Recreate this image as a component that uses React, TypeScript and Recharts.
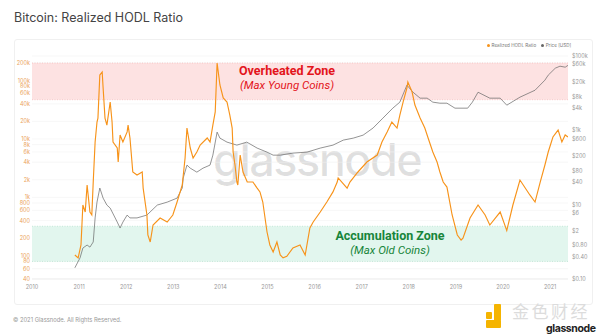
import React from "react"
import { ComposedChart, Line, XAxis, YAxis, CartesianGrid, ReferenceArea, ReferenceLine } from "recharts"

// realized HODL ratio (decimal year / ratio)
const hodlYears = [
  2010.91, 2010.98, 2011.04, 2011.08, 2011.13, 2011.17, 2011.23, 2011.27, 2011.30, 2011.34,
  2011.38, 2011.40, 2011.44, 2011.49, 2011.51, 2011.55, 2011.59, 2011.66, 2011.70, 2011.72,
  2011.81, 2011.83, 2011.87, 2011.93, 2012.02, 2012.04, 2012.08, 2012.14, 2012.23, 2012.34,
  2012.36, 2012.44, 2012.46, 2012.51, 2012.57, 2012.72, 2012.87, 2012.99, 2013.08, 2013.19,
  2013.25, 2013.29, 2013.36, 2013.42, 2013.50, 2013.57, 2013.72, 2013.78, 2013.84, 2013.89,
  2013.93, 2013.99, 2014.06, 2014.14, 2014.20, 2014.25, 2014.27, 2014.31, 2014.35, 2014.37,
  2014.42, 2014.48, 2014.57, 2014.69, 2014.78, 2014.84, 2014.90, 2014.99, 2015.05, 2015.12,
  2015.20, 2015.27, 2015.33, 2015.41, 2015.54, 2015.69, 2015.80, 2015.90, 2015.97, 2016.12,
  2016.26, 2016.39, 2016.48, 2016.50, 2016.69, 2016.75, 2016.92, 2017.11, 2017.33, 2017.43,
  2017.54, 2017.64, 2017.75, 2017.81, 2017.88, 2017.96, 2017.98, 2018.07, 2018.13, 2018.24,
  2018.34, 2018.41, 2018.51, 2018.60, 2018.66, 2018.73, 2018.81, 2018.92, 2019.03, 2019.11,
  2019.15, 2019.30, 2019.47, 2019.62, 2019.72, 2019.94, 2020.08, 2020.21, 2020.36, 2020.57,
  2020.68, 2020.79, 2020.89, 2020.96, 2021.06, 2021.17, 2021.25, 2021.32, 2021.38,
]
const hodlRatio = [
  103, 92, 153, 740, 561, 1630, 561, 499, 1830, 8870,
  19500, 22800, 124500, 140300, 74600, 22800, 17300, 43000, 19500, 8870,
  7000, 4030, 11700, 8870, 13200, 17300, 10400, 2720, 2420, 2720,
  1440, 499, 227, 172, 336, 443, 378, 499, 832, 1630,
  4720, 15400, 7000, 4720, 5980, 7890, 10400, 8870, 17300, 29000,
  200000, 84000, 50300, 43000, 25700, 15400, 5980, 3580, 1830, 1630,
  5310, 2720, 1830, 1830, 1440, 1240, 832, 255, 153, 116,
  172, 103, 92, 98, 136, 153, 103, 299, 378, 561,
  832, 1240, 1830, 2150, 1440, 1830, 2720, 4030, 5310, 8870,
  13200, 19500, 15400, 25700, 43000, 74600, 94400, 63700, 38100, 22800,
  15400, 10400, 5980, 4030, 2720, 1830, 1500, 499, 227, 186,
  200, 443, 740, 499, 336, 561, 270, 740, 1980, 1100,
  832, 1830, 3580, 5980, 10800, 14200, 8870, 11700, 10800,
]

// BTC price in USD
const priceYears = [
  2010.91, 2011.02, 2011.08, 2011.17, 2011.23, 2011.30, 2011.34, 2011.38, 2011.44, 2011.51,
  2011.59, 2011.66, 2011.81, 2011.87, 2011.93, 2012.02, 2012.08, 2012.23, 2012.44, 2012.66,
  2012.87, 2013.08, 2013.19, 2013.21, 2013.29, 2013.36, 2013.50, 2013.63, 2013.78, 2013.84,
  2013.93, 2013.99, 2014.14, 2014.35, 2014.56, 2014.78, 2014.99, 2015.12, 2015.27, 2015.54,
  2015.84, 2016.12, 2016.39, 2016.61, 2016.82, 2017.03, 2017.24, 2017.45, 2017.66, 2017.81,
  2017.96, 2018.09, 2018.24, 2018.39, 2018.51, 2018.66, 2018.81, 2018.98, 2019.25, 2019.35,
  2019.47, 2019.72, 2019.94, 2020.08, 2020.36, 2020.68, 2020.89, 2020.96, 2021.11, 2021.21,
  2021.32, 2021.38,
]
const priceUsd = [
  0.2, 0.37, 0.68, 0.82, 0.72, 0.99, 4.4, 11.7, 28, 15,
  9.75, 8.1, 3.4, 2.35, 3.4, 5.25, 4.4, 4.4, 5.25, 9.75,
  11.7, 15, 28, 52, 116, 96, 75, 96, 116, 215,
  895, 617, 482, 400, 482, 333, 259, 215, 215, 244,
  259, 333, 400, 546, 617, 743, 1150, 2130, 3950, 5730,
  16400, 10600, 7340, 7340, 5730, 5380, 5380, 3950, 3950, 5730,
  10600, 7340, 7340, 4750, 7800, 12000, 22400, 30500, 47000, 53200,
  50000, 56000,
]

const yearTicks = [2010, 2011, 2012, 2013, 2014, 2015, 2016, 2017, 2018, 2019, 2020, 2021]
const ratioTicks = [40, 60, 80, 100, 200, 400, 600, 800, 1000, 2000, 4000, 6000, 8000, 10000, 20000, 40000, 60000, 80000, 100000, 200000]
const priceTicks = [0.1, 0.4, 0.8, 2, 6, 10, 40, 80, 200, 600, 1000, 4000, 8000, 20000, 60000, 100000]

const overheated = [47000, 200000]
const accumulation = [80, 320]

type Row = { t: number; hodl?: number; price?: number }
const rows = new Map<number, Row>()
hodlYears.forEach((t, i) => rows.set(t, { ...(rows.get(t) || { t }), hodl: hodlRatio[i] }))
priceYears.forEach((t, i) => rows.set(t, { ...(rows.get(t) || { t }), price: priceUsd[i] }))
const data = [...rows.values()].sort((a, b) => a.t - b.t)

const fmtRatio = (v: number) => (v >= 1000 ? `${v / 1000}k` : `${v}`)
const fmtPrice = (v: number) => (v >= 1000 ? `$${v / 1000}k` : v < 1 ? `$${v.toFixed(2)}` : `$${v}`)

const ORANGE = "#f7931a"
const tickFont = { fontSize: 5.5, fontFamily: "Inter, sans-serif" }

export default function App() {
  return (
    <div style={{ position: "absolute", left: 0, top: 0, width: 600, height: 334, background: "#fff", fontFamily: "Inter, sans-serif", overflow: "hidden" }}>
      <div style={{ position: "absolute", left: 14, top: 10, fontSize: 12.5, color: "#444" }}>Bitcoin: Realized HODL Ratio</div>
      <div style={{ position: "absolute", left: 14, top: 39, width: 577, height: 264, border: "1px solid #f0f0f0", borderRadius: 3 }} />

      {/* watermark */}
      <div style={{ position: "absolute", left: 213, top: 132, fontSize: 45, letterSpacing: -1.5, color: "rgba(0,0,0,0.12)", fontWeight: 500 }}>glassnode</div>

      <div style={{ position: "absolute", left: 0, top: 0 }}>
        <ComposedChart width={600} height={300} data={data} margin={{ top: 56, right: 2, bottom: 1, left: 10 }}>
          <CartesianGrid yAxisId="left" vertical={false} stroke="#f1f1f1" strokeWidth={0.6} />
          <XAxis dataKey="t" type="number" domain={[2010, 2021.38]} ticks={yearTicks} allowDataOverflow
            tickLine={false} tickSize={0} tickMargin={6} height={20}
            axisLine={{ stroke: "#e6e6e6", strokeWidth: 0.6 }} tick={{ ...tickFont, fill: "#999" }} />
          <YAxis yAxisId="left" scale="log" domain={[40, 263600]} ticks={ratioTicks} allowDataOverflow
            width={22} tickLine={false} axisLine={false} tickSize={0} tickMargin={2}
            tickFormatter={fmtRatio} tick={{ ...tickFont, fill: "#eba35a" }} interval={0} />
          <YAxis yAxisId="right" orientation="right" scale="log" domain={[0.1, 100000]} ticks={priceTicks} allowDataOverflow
            width={30} tickLine={false} axisLine={false} tickSize={0} tickMargin={4}
            tickFormatter={fmtPrice} tick={{ ...tickFont, fill: "#999" }} interval={0} />
          <ReferenceArea yAxisId="left" y1={overheated[0]} y2={overheated[1]} fill="#fde2e2" fillOpacity={1} stroke="none" />
          <ReferenceArea yAxisId="left" y1={accumulation[0]} y2={accumulation[1]} fill="#e2f6ee" fillOpacity={1} stroke="none" />
          <ReferenceLine yAxisId="left" y={overheated[0]} stroke="#f3b0b0" strokeWidth={0.6} strokeDasharray="1 1.5" />
          <ReferenceLine yAxisId="left" y={overheated[1]} stroke="#f3b0b0" strokeWidth={0.6} strokeDasharray="1 1.5" />
          <ReferenceLine yAxisId="left" y={accumulation[0]} stroke="#a8ddc6" strokeWidth={0.6} strokeDasharray="1 1.5" />
          <ReferenceLine yAxisId="left" y={accumulation[1]} stroke="#a8ddc6" strokeWidth={0.6} strokeDasharray="1 1.5" />
          <Line yAxisId="right" dataKey="price" type="linear" stroke="#666" strokeWidth={0.7} dot={false} connectNulls isAnimationActive={false} />
          <Line yAxisId="left" dataKey="hodl" type="linear" stroke={ORANGE} strokeWidth={1.15} dot={false} connectNulls isAnimationActive={false} />
        </ComposedChart>
      </div>

      {/* legend */}
      <div style={{ position: "absolute", left: 487, top: 43, display: "flex", gap: 5, fontSize: 4.6, color: "#777", alignItems: "center" }}>
        <span style={{ display: "flex", alignItems: "center", gap: 1.5 }}>
          <span style={{ width: 3, height: 3, borderRadius: 2, background: ORANGE }} />Realized HODL Ratio
        </span>
        <span style={{ display: "flex", alignItems: "center", gap: 1.5 }}>
          <span style={{ width: 3, height: 3, borderRadius: 2, background: "#666" }} />Price [USD]
        </span>
      </div>

      {/* zone labels */}
      <div style={{ position: "absolute", left: 187, width: 200, top: 64, textAlign: "center", color: "#e3141b", fontFamily: "Roboto, sans-serif", lineHeight: "14px" }}>
        <div style={{ fontSize: 12.5, fontWeight: 700 }}>Overheated Zone</div>
        <div style={{ fontSize: 11.5, fontStyle: "italic" }}>(Max Young Coins)</div>
      </div>
      <div style={{ position: "absolute", left: 290, width: 200, top: 229, textAlign: "center", color: "#17853a", fontFamily: "Roboto, sans-serif", lineHeight: "14px" }}>
        <div style={{ fontSize: 12.5, fontWeight: 700 }}>Accumulation Zone</div>
        <div style={{ fontSize: 11.5, fontStyle: "italic" }}>(Max Old Coins)</div>
      </div>

      <div style={{ position: "absolute", left: 13, top: 316, fontSize: 5.8, color: "#999" }}>© 2021 Glassnode. All Rights Reserved.</div>

      {/* source logo, bottom right */}
      <div style={{ position: "absolute", left: 486, top: 312, width: 6, height: 7, background: "#f5b400", borderRadius: 1 }} />
      <div style={{ position: "absolute", left: 494, top: 304, width: 7, height: 17, background: "#f5b400", borderRadius: 1 }} />
      <div style={{ position: "absolute", left: 486, top: 320, width: 15, height: 8, background: "#f5b400", borderRadius: 1 }} />
      <div style={{ position: "absolute", left: 512, top: 302, fontSize: 17, color: "#dcdcdc", fontFamily: "'Noto Sans CJK SC', sans-serif", lineHeight: "18px", height: 18, letterSpacing: 2.5 }}>金色财经</div>
      <div style={{ position: "absolute", left: 546, top: 324, fontSize: 10.5, color: "#222", fontWeight: 700, letterSpacing: -0.4, lineHeight: "10px" }}>glassnode</div>
    </div>
  )
}
